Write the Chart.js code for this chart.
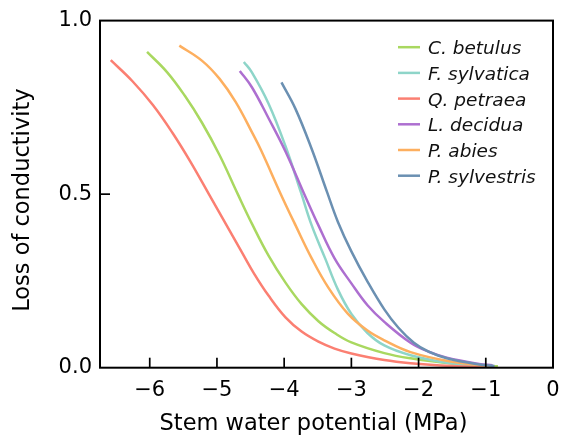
<!DOCTYPE html>
<html>
<head>
<meta charset="utf-8">
<script src="https://cdn.jsdelivr.net/npm/chart.js@4.4.1/dist/chart.umd.min.js"></script>
<style>
  html, body { margin: 0; padding: 0; background: #ffffff; }
  #wrap { width: 564px; height: 441px; }
</style>
</head>
<body>
<div id="wrap"><canvas id="c" width="564" height="441"></canvas></div>
<script>
// ---- data ----
const speciesNames = ['C. betulus', 'F. sylvatica', 'Q. petraea', 'L. decidua', 'P. abies', 'P. sylvestris'];
const speciesColors = ['#a9d860', '#8ed5c9', '#fb7f72', '#ad6fd0', '#fdaf5f', '#6b90b2'];

const cBetulusX = [-6.04, -5.74, -5.48, -5.22, -4.96, -4.69, -4.48, -4.23, -3.98, -3.74, -3.49, -3.25, -3.00, -2.51, -2.12, -1.50, -0.82];
const cBetulusY = [0.910, 0.851, 0.784, 0.705, 0.612, 0.500, 0.415, 0.322, 0.245, 0.183, 0.134, 0.100, 0.073, 0.042, 0.027, 0.012, 0.004];

const fSylvaticaX = [-4.60, -4.48, -4.23, -3.98, -3.75, -3.59, -3.39, -3.20, -3.00, -2.76, -2.51, -2.12, -1.50, -1.00];
const fSylvaticaY = [0.881, 0.851, 0.760, 0.638, 0.505, 0.410, 0.315, 0.225, 0.155, 0.100, 0.064, 0.036, 0.012, 0.004];

const qPetraeaX = [-6.58, -6.26, -5.95, -5.66, -5.40, -5.12, -4.82, -4.63, -4.45, -4.23, -3.98, -3.74, -3.49, -3.25, -3.00, -2.51, -2.12, -1.50, -1.00];
const qPetraeaY = [0.886, 0.826, 0.756, 0.676, 0.595, 0.500, 0.398, 0.333, 0.272, 0.207, 0.145, 0.104, 0.075, 0.055, 0.041, 0.022, 0.013, 0.005, 0.002];

const lDeciduaX = [-4.66, -4.48, -4.23, -3.98, -3.70, -3.49, -3.25, -3.00, -2.76, -2.51, -2.12, -1.85, -1.58, -1.10, -0.90];
const lDeciduaY = [0.855, 0.808, 0.718, 0.623, 0.500, 0.410, 0.315, 0.243, 0.180, 0.132, 0.072, 0.046, 0.029, 0.011, 0.007];

const pAbiesX = [-5.56, -5.22, -4.96, -4.72, -4.47, -4.34, -4.05, -3.83, -3.59, -3.34, -3.05, -2.76, -2.51, -2.12, -1.50, -0.95];
const pAbiesY = [0.928, 0.884, 0.832, 0.765, 0.675, 0.625, 0.500, 0.410, 0.315, 0.230, 0.155, 0.107, 0.079, 0.045, 0.017, 0.005];

const pSylvestrisX = [-4.04, -3.83, -3.59, -3.36, -3.20, -3.00, -2.76, -2.51, -2.30, -2.07, -1.85, -1.58, -1.10, -0.87];
const pSylvestrisY = [0.822, 0.745, 0.630, 0.505, 0.420, 0.335, 0.248, 0.168, 0.115, 0.072, 0.046, 0.027, 0.009, 0.005];

const seriesX = [cBetulusX, fSylvaticaX, qPetraeaX, lDeciduaX, pAbiesX, pSylvestrisX];
const seriesY = [cBetulusY, fSylvaticaY, qPetraeaY, lDeciduaY, pAbiesY, pSylvestrisY];

const xAxisRange = [-6.74, 0];
const yAxisRange = [0, 1];
const xTickStep = 1;
const yTickStep = 0.5;
const xTitle = 'Stem water potential (MPa)';
const yTitle = 'Loss of conductivity';

// ---- chart ----
const FONT = "'DejaVu Sans', sans-serif";
Chart.defaults.font.family = FONT;
Chart.defaults.color = '#000';

const datasets = speciesNames.map((name, i) => ({
  label: name,
  data: seriesX[i].map((x, j) => ({ x: x, y: seriesY[i][j] })),
  borderColor: speciesColors[i],
  backgroundColor: speciesColors[i],
  borderWidth: 2.5,
  pointRadius: 0,
  fill: false,
  tension: 0.4,
  cubicInterpolationMode: 'default',
  borderCapStyle: 'butt',
  borderJoinStyle: 'round',
  order: speciesNames.length - i
}));

const framePlugin = {
  id: 'frame',
  afterDatasetsDraw(chart) {
    const { ctx, chartArea: a } = chart;
    const xs = chart.scales.x, ys = chart.scales.y;
    ctx.save();
    ctx.strokeStyle = '#000';
    ctx.lineWidth = 2;
    ctx.strokeRect(a.left, a.top, a.right - a.left, a.bottom - a.top);
    ctx.lineWidth = 1.7;
    const L = 10;
    xs.ticks.forEach(t => {
      const px = xs.getPixelForValue(t.value);
      if (px > a.left + 2 && px < a.right - 2) {
        ctx.beginPath(); ctx.moveTo(px, a.bottom); ctx.lineTo(px, a.bottom - L); ctx.stroke();
      }
    });
    ys.ticks.forEach(t => {
      const py = ys.getPixelForValue(t.value);
      if (py > a.top + 2 && py < a.bottom - 2) {
        ctx.beginPath(); ctx.moveTo(a.left, py); ctx.lineTo(a.left + L, py); ctx.stroke();
      }
    });
    // axis titles
    ctx.fillStyle = '#000';
    ctx.font = "22.5px " + FONT;
    ctx.textAlign = 'center';
    ctx.textBaseline = 'middle';
    ctx.fillText(xTitle, a.left + 213.5, a.bottom + 56);
    ctx.save();
    ctx.translate(23.4, (a.top + a.bottom) / 2 + 6);
    ctx.rotate(-Math.PI / 2);
    ctx.fillText(yTitle, 0, 0);
    ctx.restore();
    // legend inside plot
    const lx = a.right - 155, ly = a.top + 26.6, step = 25.7;
    ctx.font = "italic 18.5px " + FONT;
    ctx.textBaseline = 'alphabetic';
    ctx.textAlign = 'left';
    speciesNames.forEach((name, i) => {
      const y = ly + i * step;
      ctx.strokeStyle = speciesColors[i];
      ctx.lineWidth = 2.5;
      ctx.beginPath(); ctx.moveTo(lx, y); ctx.lineTo(lx + 22, y); ctx.stroke();
      ctx.fillStyle = '#111';
      ctx.fillText(name, lx + 30, y + 7);
    });
    ctx.restore();
  }
};

new Chart(document.getElementById('c'), {
  type: 'line',
  data: { datasets: datasets },
  plugins: [framePlugin],
  options: {
    responsive: false,
    animation: false,
    devicePixelRatio: 1,
    layout: { padding: { top: 15.7, right: 11, left: 0, bottom: 0 } },
    plugins: { legend: { display: false }, tooltip: { enabled: false } },
    scales: {
      x: {
        type: 'linear',
        position: 'bottom',
        min: xAxisRange[0],
        max: xAxisRange[1],
        grid: { display: false, drawTicks: true, tickLength: 10 },
        border: { display: false },
        ticks: {
          stepSize: xTickStep,
          includeBounds: false,
          padding: 0,
          color: '#000',
          font: { size: 21 },
          maxRotation: 0,
          callback: v => { const r = Math.round(v); return r < 0 ? '\u2212' + Math.abs(r) : String(r); }
        },
        title: { display: false },
        afterFit: s => { s.height = 73.3; }
      },
      y: {
        type: 'linear',
        min: yAxisRange[0],
        max: yAxisRange[1],
        grid: { display: false, drawTicks: false },
        border: { display: false },
        ticks: {
          stepSize: yTickStep,
          padding: 8,
          color: '#000',
          font: { size: 21 },
          callback: v => Number(v).toFixed(1)
        },
        title: { display: false },
        afterFit: s => { s.width = 100; }
      }
    }
  }
});
</script>
</body>
</html>
